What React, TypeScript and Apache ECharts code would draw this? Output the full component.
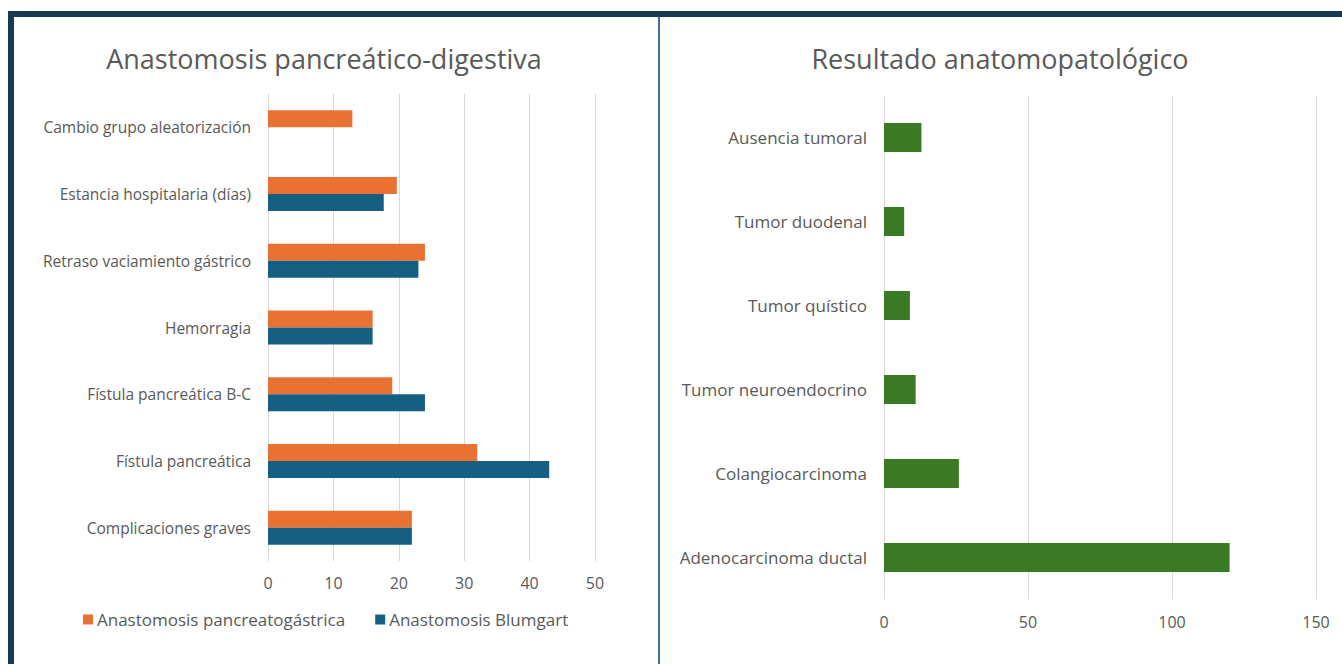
import React, { useEffect, useRef } from "react";
import * as echarts from "echarts";

const leftTitle = "Anastomosis pancreático-digestiva";
const rightTitle = "Resultado anatomopatológico";

const leftCategories = [
  "Cambio grupo aleatorización",
  "Estancia hospitalaria (días)",
  "Retraso vaciamiento gástrico",
  "Hemorragia",
  "Fístula pancreática B-C",
  "Fístula pancreática",
  "Complicaciones graves",
];
const seriesNames = ["Anastomosis pancreatogástrica", "Anastomosis Blumgart"];
const pancreatogastrica = [12.9, 19.7, 24, 16, 19, 32, 22];
const blumgart = [0, 17.7, 23, 16, 24, 43, 22];
const leftAxisMax = 50;
const leftAxisInterval = 10;

const rightCategories = [
  "Ausencia tumoral",
  "Tumor duodenal",
  "Tumor quístico",
  "Tumor neuroendocrino",
  "Colangiocarcinoma",
  "Adenocarcinoma ductal",
];
const rightValues = [13, 7, 9, 11, 26, 120];
const rightAxisMax = 150;
const rightAxisInterval = 50;

const FONT = "'Open Sans'";
const TEXT = "#595959";
const GRID = "#d9d9d9";
const ORANGE = "#e97132";
const BLUE = "#156082";
const GREEN = "#3b7a24";

export default function App() {
  const ref = useRef<HTMLDivElement>(null);
  useEffect(() => {
    if (!ref.current) return;
    const chart = echarts.init(ref.current, undefined, { renderer: "svg" });
    const valueAxisCommon = {
      type: "value",
      axisLine: { show: false },
      axisTick: { show: false },
      splitLine: { show: true, lineStyle: { color: GRID, width: 1 } },
      axisLabel: { color: TEXT, fontFamily: FONT, fontSize: 16, margin: 14 },
    };
    const catAxisCommon = {
      type: "category",
      inverse: true,
      axisLine: { show: false },
      axisTick: { show: false },
      splitLine: { show: false },
    };
    chart.setOption({
      animation: false,
      backgroundColor: "#ffffff",
      textStyle: { fontFamily: FONT },
      grid: [
        { left: 268, width: 327, top: 94, height: 467, containLabel: false },
        { left: 884, width: 432, top: 95.5, height: 504, containLabel: false },
      ],
      xAxis: [
        { ...valueAxisCommon, gridIndex: 0, min: 0, max: leftAxisMax, interval: leftAxisInterval },
        { ...valueAxisCommon, gridIndex: 1, min: 0, max: rightAxisMax, interval: rightAxisInterval },
      ],
      yAxis: [
        {
          ...catAxisCommon,
          gridIndex: 0,
          data: leftCategories,
          axisLabel: { color: TEXT, fontFamily: FONT, fontSize: 15.5, margin: 17 },
        },
        {
          ...catAxisCommon,
          gridIndex: 1,
          data: rightCategories,
          axisLabel: { color: TEXT, fontFamily: FONT, fontSize: 17, margin: 17 },
        },
      ],
      legend: {
        left: 83,
        top: 611,
        padding: 0,
        itemWidth: 10,
        itemHeight: 10,
        itemGap: 30,
        icon: "rect",
        textStyle: { color: TEXT, fontFamily: FONT, fontSize: 17, padding: [0, 0, 0, -1] },
        data: seriesNames,
      },
      series: [
        {
          name: seriesNames[0],
          type: "bar",
          xAxisIndex: 0,
          yAxisIndex: 0,
          data: pancreatogastrica,
          itemStyle: { color: ORANGE },
          barWidth: 17,
          barGap: "0%",
        },
        {
          name: seriesNames[1],
          type: "bar",
          xAxisIndex: 0,
          yAxisIndex: 0,
          data: blumgart,
          itemStyle: { color: BLUE },
          barWidth: 17,
          barGap: "0%",
        },
        {
          name: "Resultado",
          type: "bar",
          xAxisIndex: 1,
          yAxisIndex: 1,
          data: rightValues,
          itemStyle: { color: GREEN },
          barWidth: 29,
        },
      ],
      graphic: [
        { type: "rect", shape: { x: 8, y: 11, width: 1334, height: 6 }, style: { fill: "#173a52" }, silent: true },
        { type: "rect", shape: { x: 8, y: 11, width: 6, height: 653 }, style: { fill: "#173a52" }, silent: true },
        { type: "rect", shape: { x: 658, y: 17, width: 2, height: 647 }, style: { fill: "#3b74a0" }, silent: true },
        {
          type: "text",
          x: 324,
          y: 58,
          style: { text: leftTitle, fill: TEXT, font: `27px ${FONT}`, textAlign: "center", textVerticalAlign: "middle" },
        },
        {
          type: "text",
          x: 1000,
          y: 58,
          style: { text: rightTitle, fill: TEXT, font: `27px ${FONT}`, textAlign: "center", textVerticalAlign: "middle" },
        },
      ],
    });
    return () => chart.dispose();
  }, []);
  return (
    <div
      ref={ref}
      style={{ position: "fixed", left: 0, top: 0, width: 1342, height: 664 }}
    />
  );
}
